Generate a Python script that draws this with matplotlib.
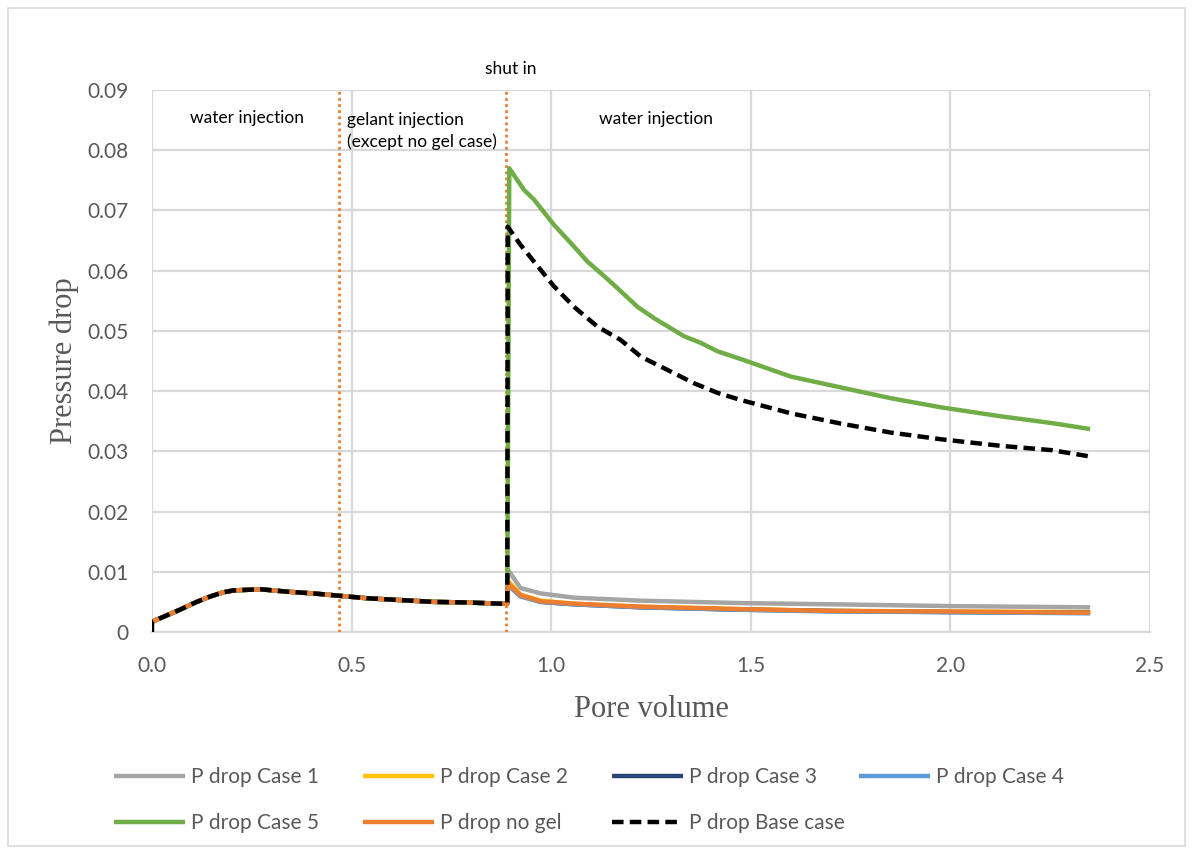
import matplotlib
matplotlib.use("Agg")
import matplotlib.pyplot as plt
from matplotlib.patches import Rectangle

# ---- data: pore volume injected vs. pressure drop ----
# common history before shut-in (water injection, then gelant injection)
pv_pre = [0.0, 0.070, 0.112, 0.146, 0.179, 0.204, 0.271, 0.338, 0.405,
          0.472, 0.539, 0.622, 0.706, 0.790, 0.873, 0.890]
dp_pre = [0.0017, 0.0037, 0.0050, 0.0059, 0.0066, 0.0069, 0.0071, 0.0067,
          0.0064, 0.0060, 0.0056, 0.0053, 0.0050, 0.0049, 0.0047, 0.0047]

# post shut-in water injection, low-pressure cases
pv_low = [0.892, 0.923, 0.974, 1.057, 1.225, 1.476, 1.701, 2.002, 2.350]
dp_case1 = [0.0103, 0.0073, 0.0064, 0.0057, 0.0052, 0.0048, 0.0046, 0.0043, 0.0041]
dp_case2 = [0.0085, 0.0062, 0.0052, 0.0047, 0.0042, 0.0038, 0.0035, 0.0034, 0.0033]
dp_case3 = [0.0079, 0.0060, 0.0050, 0.0046, 0.0041, 0.0037, 0.0035, 0.0033, 0.0032]
dp_case4 = [0.0078, 0.0059, 0.0050, 0.0046, 0.0041, 0.0037, 0.0034, 0.0033, 0.0031]
dp_nogel = [0.0081, 0.0061, 0.0051, 0.0047, 0.0042, 0.0038, 0.0035, 0.0034, 0.0032]

# post shut-in, Case 5
pv_case5 = [0.895, 0.932, 0.957, 1.007, 1.049, 1.091, 1.124, 1.166, 1.216,
            1.258, 1.333, 1.375, 1.417, 1.476, 1.601, 1.726, 1.852, 1.977,
            2.128, 2.253, 2.350]
dp_case5 = [0.0770, 0.0734, 0.0718, 0.0676, 0.0646, 0.0615, 0.0596, 0.0571,
            0.0540, 0.0521, 0.0491, 0.0480, 0.0466, 0.0453, 0.0424, 0.0406,
            0.0388, 0.0373, 0.0358, 0.0347, 0.0337]

# post shut-in, base case
pv_base = [0.891, 0.923, 0.974, 1.007, 1.057, 1.116, 1.174, 1.225, 1.292,
           1.358, 1.417, 1.476, 1.601, 1.726, 1.852, 1.977, 2.128, 2.253, 2.345]
dp_base = [0.0673, 0.0643, 0.0601, 0.0574, 0.0540, 0.0507, 0.0485, 0.0457,
           0.0435, 0.0413, 0.0397, 0.0385, 0.0363, 0.0346, 0.0331, 0.0320,
           0.0309, 0.0302, 0.0292]

# phase boundaries (pore volumes)
gelant_start = 0.469
shut_in = 0.886

series_names = ["P drop Case 1", "P drop Case 2", "P drop Case 3", "P drop Case 4",
                "P drop Case 5", "P drop no gel", "P drop Base case"]
colors = ["#A5A5A5", "#FFC000", "#264478", "#5B9BD5", "#70AD47", "#ED7D31", "#000000"]

x_ticks = [0.0, 0.5, 1.0, 1.5, 2.0, 2.5]
y_ticks = [0, 0.01, 0.02, 0.03, 0.04, 0.05, 0.06, 0.07, 0.08, 0.09]
y_tick_labels = ["0", "0.01", "0.02", "0.03", "0.04", "0.05", "0.06", "0.07", "0.08", "0.09"]

# ---- figure ----
fig = plt.figure(figsize=(11.92, 8.52), dpi=100)
ax = fig.add_axes([152 / 1192, 1 - 632 / 852, 998 / 1192, 542 / 852])

sans = "Lato"
grid_c = "#D9D9D9"
tick_c = "#595959"

series = [
    (pv_pre + pv_low, dp_pre + dp_case1),
    (pv_pre + pv_low, dp_pre + dp_case2),
    (pv_pre + pv_low, dp_pre + dp_case3),
    (pv_pre + pv_low, dp_pre + dp_case4),
    (pv_pre + pv_case5, dp_pre + dp_case5),
    (pv_pre + pv_low, dp_pre + dp_nogel),
    ([0.0] + pv_pre + pv_base, [0.0] + dp_pre + dp_base),
]

handles = []
for (xs, ys), name, c in zip(series, series_names, colors):
    if name == "P drop Base case":
        h, = ax.plot(xs, ys, color=c, lw=3.2, linestyle=(0, (2.6, 1.4)),
                     dash_capstyle="butt", label=name, zorder=5)
    else:
        h, = ax.plot(xs, ys, color=c, lw=3.2, solid_capstyle="butt",
                     label=name, zorder=4)
    handles.append(h)

# phase boundaries
for xv in (gelant_start, shut_in):
    ax.axvline(xv, color="#ED7D31", lw=2.0, linestyle=(0, (1, 1.2)), zorder=3)

ax.set_xlim(0, 2.5)
ax.set_ylim(0, 0.09)
ax.set_xticks(x_ticks)
ax.set_xticklabels([f"{v:.1f}" for v in x_ticks])
ax.set_yticks(y_ticks)
ax.set_yticklabels(y_tick_labels)
ax.grid(True, color=grid_c, lw=1.6, zorder=0)
ax.set_axisbelow(True)
for side in ("top", "right", "left"):
    ax.spines[side].set_visible(False)
ax.spines["bottom"].set_color(grid_c)
ax.spines["bottom"].set_linewidth(1.6)
ax.tick_params(axis="both", length=0, labelsize=15, labelcolor=tick_c)
ax.tick_params(axis="y", pad=17)
ax.tick_params(axis="x", pad=17)
for lab in ax.get_xticklabels() + ax.get_yticklabels():
    lab.set_fontfamily(sans)

ax.set_xlabel("Pore volume", fontsize=22, family="Liberation Serif",
              color=tick_c, labelpad=14)
ax.set_ylabel("Pressure drop", fontsize=22, family="Liberation Serif",
              color=tick_c, labelpad=6)

# phase annotations
ann = dict(fontsize=12.5, family=sans, color="#000000")
ax.text(0.237, 0.0854, "water injection", ha="center", va="center", **ann)
ax.text(0.489, 0.0850, "gelant injection", ha="left", va="center", **ann)
ax.text(0.489, 0.0814, "(except no gel case)", ha="left", va="center", **ann)
ax.text(1.262, 0.0852, "water injection", ha="center", va="center", **ann)
ax.text(0.898, 0.0935, "shut in", ha="center", va="center", clip_on=False, **ann)

# legend: four evenly spaced columns, two rows
col_x = [114, 363, 612, 859]
col_items = [[0, 4], [1, 5], [2, 6], [3]]
for cx, idx in zip(col_x, col_items):
    leg = fig.legend(handles=[handles[i] for i in idx],
                     labels=[series_names[i] for i in idx],
                     loc="upper left", bbox_to_anchor=(cx / 1192, 1 - 767 / 852),
                     frameon=False, borderpad=0, borderaxespad=0,
                     handlelength=3.4, handletextpad=0.3, labelspacing=1.25,
                     prop={"family": sans, "size": 15})
    for t in leg.get_texts():
        t.set_color(tick_c)

# outer chart border
fig.patches.append(Rectangle((8 / 1192, 6 / 852), 1177 / 1192, 838 / 852,
                             transform=fig.transFigure, fill=False,
                             edgecolor=grid_c, lw=1.2))

fig.savefig("out.png", dpi=100)
